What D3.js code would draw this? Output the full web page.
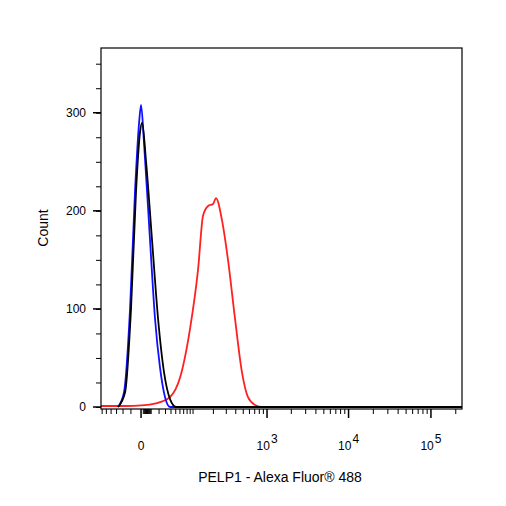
<!DOCTYPE html>
<html lang="en">
<head>
<meta charset="utf-8">
<script src="https://cdn.jsdelivr.net/npm/d3@7"></script>
<style>
  body { margin: 0; background: #fff; }
  text { font-family: "Liberation Sans", Arial, sans-serif; fill: #000; }
</style>
</head>
<body>
<script>
// data (fluorescence value, count)
var blueX = [-27.6, -18.6, -11, -5.6, -1.7, 0, 2.6, 8.7, 14.6, 21.4, 29.2, 38.1, 238000];
var blueY = [0, 15, 100, 220, 290, 308, 270, 170, 90, 40, 10, 0, 0];
var blackX = [-27.6, -17.2, -9.9, -4.6, -0.9, 0.9, 4.6, 11, 18.6, 27.6, 38.1, 50.7, 238000];
var blackY = [0, 15, 100, 220, 280, 290, 250, 170, 90, 35, 8, 0, 0];
var redX = [-63, -20, 3.5, 21.4, 38.1, 60.3, 89.6, 119.6, 142, 168, 198, 217, 263, 316, 391, 482, 575, 707, 866, 238000];
var redY = [1, 1, 2, 5, 10, 30, 80, 140, 195, 205, 207, 213, 190, 150, 90, 35, 10, 2, 0, 0];
var yTicks = [0, 100, 200, 300];
var xMajor = [0, 1000, 10000, 100000];
var xLabels = ["0", "3", "4", "5"];

var w = 506, h = 506;
var svg = d3.select("body").append("svg").attr("width", w).attr("height", h);

var x = d3.scaleSymlog().constant(30.6).domain([-63, 238000]).range([101, 462]);
var y = d3.scaleLinear().domain([0, 366]).range([407, 48]);

// minor x ticks
var minor = [];
[-60, -50, -40, -30, -20, -10].forEach(function(v) { minor.push(v); });
[1, 10, 100, 1000, 10000].forEach(function(d) {
  for (var k = 1; k < 10; k++) { if (d * k !== 1) minor.push(d * k); }
});
minor.push(200000);
minor = minor.filter(function(v) { return xMajor.indexOf(v) < 0 && v > -63 && v < 238000; });

svg.append("g").selectAll("line").data(minor).enter().append("line")
  .attr("x1", function(d) { return x(d); }).attr("x2", function(d) { return x(d); })
  .attr("y1", 409).attr("y2", 414).attr("stroke", "#000");
svg.append("g").selectAll("line").data(xMajor).enter().append("line")
  .attr("x1", function(d) { return x(d); }).attr("x2", function(d) { return x(d); })
  .attr("y1", 409).attr("y2", 418).attr("stroke", "#000").attr("stroke-width", 1.5);

var xl = svg.append("g").selectAll("text").data(xMajor).enter().append("text")
  .attr("x", function(d) { return x(d); }).attr("y", 450)
  .attr("text-anchor", "middle").style("font-size", "12px");
xl.each(function(d, i) {
  var t = d3.select(this);
  if (i === 0) { t.text("0"); return; }
  t.append("tspan").text("10");
  t.append("tspan").attr("dy", -7).attr("dx", 1).text(xLabels[i]);
});

// y axis
var ya = d3.axisLeft(y).tickValues(d3.range(0, 366, 25)).tickSize(5).tickFormat("");
svg.append("g").attr("transform", "translate(101,0)").call(ya).call(function(g) {
  g.select(".domain").remove();
});
svg.append("g").selectAll("line").data(yTicks).enter().append("line")
  .attr("x1", 93).attr("x2", 101)
  .attr("y1", function(d) { return y(d); }).attr("y2", function(d) { return y(d); })
  .attr("stroke", "#000").attr("stroke-width", 1.5);
svg.append("g").selectAll("text").data(yTicks).enter().append("text")
  .attr("x", 86).attr("y", function(d) { return y(d) + 4; })
  .attr("text-anchor", "end").style("font-size", "12px").text(function(d) { return d; });

// curves
var line = d3.line().x(function(d) { return x(d[0]); }).y(function(d) { return y(d[1]); })
  .curve(d3.curveMonotoneX);
function draw(xs, ys, c) {
  svg.append("path").datum(d3.zip(xs, ys)).attr("d", line)
    .attr("fill", "none").attr("stroke", c).attr("stroke-width", 1.8);
}
draw(redX, redY, "#ff2020");
draw(blueX, blueY, "#1010ff");
draw(blackX, blackY, "#000");

// frame
svg.append("rect").attr("x", 101).attr("y", 48).attr("width", 361).attr("height", 361)
  .attr("fill", "none").attr("stroke", "#000").attr("stroke-width", 1.2);

svg.append("text").attr("transform", "translate(48,228) rotate(-90)")
  .attr("text-anchor", "middle").style("font-size", "14px").text("Count");
svg.append("text").attr("x", 280).attr("y", 482)
  .attr("text-anchor", "middle").style("font-size", "14px").text("PELP1 - Alexa Fluor® 488");
</script>
</body>
</html>
